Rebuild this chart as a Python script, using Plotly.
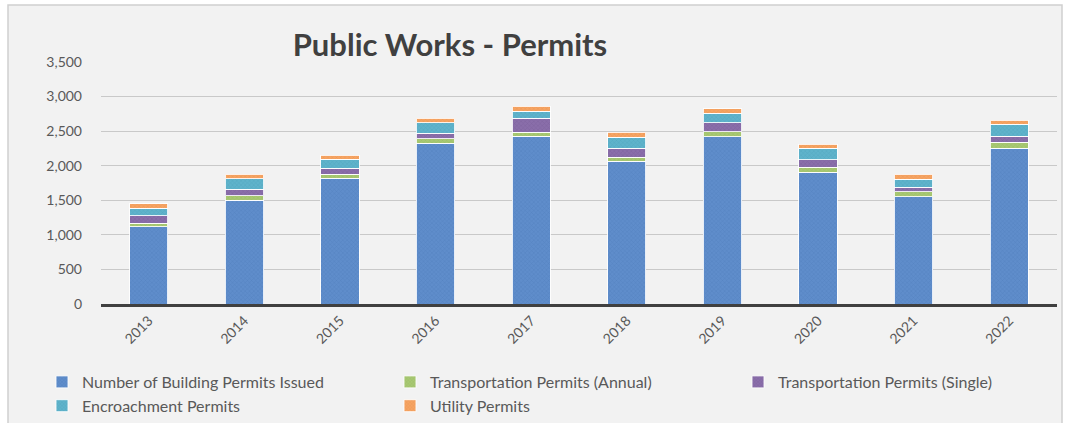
import plotly.graph_objects as go

# Permit counts by year (stacked)
years = ["2013", "2014", "2015", "2016", "2017", "2018", "2019", "2020", "2021", "2022"]
building = [1118, 1504, 1818, 2324, 2425, 2068, 2420, 1904, 1552, 2252]
transport_annual = [50, 63, 58, 63, 58, 53, 72, 73, 68, 87]
transport_single = [105, 92, 91, 86, 203, 135, 131, 106, 72, 86]
encroachment = [115, 149, 126, 150, 105, 155, 135, 169, 112, 174]
utility = [62, 68, 62, 67, 68, 72, 67, 62, 72, 62]

series = [
    ("Number of Building Permits Issued", building, "#5f8dcb", "#4a77b6"),
    ("Transportation Permits (Annual)", transport_annual, "#a8c873", "#8fb25a"),
    ("Transportation Permits (Single)", transport_single, "#8a6eaa", "#735893"),
    ("Encroachment Permits", encroachment, "#5fb3cb", "#4a9cb4"),
    ("Utility Permits", utility, "#f6a463", "#e08a48"),
]

fig = go.Figure()
for name, vals, col, fg in series:
    fig.add_trace(go.Bar(
        x=years, y=vals, name=name,
        marker=dict(
            color=col,
            line=dict(color="rgba(255,255,255,0.85)", width=1),
            pattern=dict(shape="x", size=3, solidity=0.3, fgcolor=fg),
        ),
        width=0.4,
    ))

# plot area in pixels: x 101..1057, y 62..304
L, R, T, B = 101, 10, 62, 119
W, H = 1067 - L - R, 423 - T - B

def px(x):
    return (x - L) / W

def py(y):
    return (423 - B - y) / H

fig.update_layout(
    barmode="stack",
    width=1067, height=423,
    margin=dict(l=L, r=R, t=T, b=B, autoexpand=False),
    paper_bgcolor="#ffffff",
    plot_bgcolor="#f2f2f2",
    font=dict(family="Lato, sans-serif", color="#595959", size=12),
    title=dict(
        text="<b>Public Works - Permits</b>",
        font=dict(family="Lato, sans-serif", size=31, color="#404040"),
        x=px(450), xref="paper", xanchor="center",
        y=1 - 45 / 423, yref="container", yanchor="middle",
    ),
    xaxis=dict(
        tickangle=-45,
        showline=True, linecolor="#404040", linewidth=3,
        tickfont=dict(size=14, color="#595959"),
        showgrid=False,
    ),
    yaxis=dict(
        range=[0, 3500], dtick=500, tickformat=",",
        gridcolor="#c9c9c9", gridwidth=1,
        zeroline=False,
        tickfont=dict(size=14, color="#595959"),
        ticklabelstandoff=18,
    ),
    legend=dict(
        orientation="h",
        x=px(42), xanchor="left",
        y=py(365), yanchor="top",
        entrywidth=303, entrywidthmode="pixels",
        font=dict(size=16, color="#595959"),
        traceorder="normal",
        bgcolor="rgba(0,0,0,0)",
        itemwidth=30,
    ),
    bargap=0.6,
    shapes=[dict(
        type="rect", xref="paper", yref="paper", layer="below",
        x0=px(8), x1=px(1062), y0=py(440), y1=py(5),
        fillcolor="#f2f2f2", line=dict(color="#d0d0d0", width=1.5),
    )],
)

fig.write_html("out.html")
